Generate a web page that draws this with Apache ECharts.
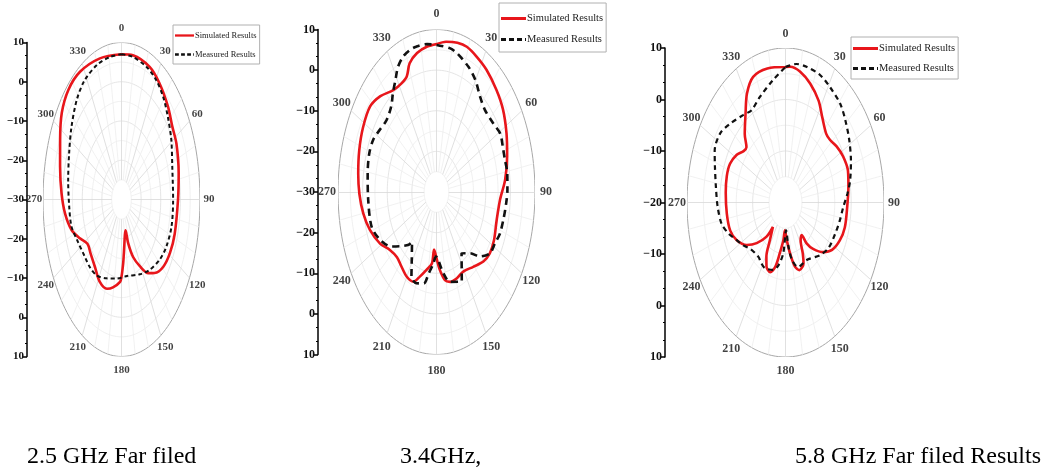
<!DOCTYPE html>
<html><head><meta charset="utf-8">
<script src="https://cdn.jsdelivr.net/npm/echarts@6/dist/echarts.min.js"></script>
<style>html,body{margin:0;padding:0;background:#fff}#c{width:1051px;height:472px}</style>
</head><body><div id="c"></div>
<script>
// ---------- data ----------
const angleTicks = [0, 30, 60, 90, 120, 150, 180, 210, 240, 270, 300, 330];
const seriesNames = ['Simulated Results', 'Measured Results'];
const captions = ['2.5 GHz Far filed', '3.4GHz,', '5.8 GHz Far filed Results'];
const rangesDb = [[-30, 10], [-30, 10], [-20, 10]];

// 2.5 GHz
const p1SimAngles = [0,9,23,33,45,54,63,77,90,108,119,129,138,144,151,158,163,165,175,177,180,182,191,198,208,218,229,237,245,253,263,273,285,296,306,316,327,343];
const p1SimDb = [7.0,7.2,6.7,5.4,3.5,1.9,1.4,-0.1,-1.2,-1.5,-1.8,-2.7,-4.8,-6.8,-10.5,-14.2,-18.3,-21.9,-16.2,-13.7,-10.3,-9.0,-7.2,-6.1,-6.3,-8.1,-9.1,-9.3,-6.6,-3.4,-1.0,0.6,2.4,4.8,7.6,8.9,8.8,7.6];
const p1MeasAngles = [0,9,21,30,39,48,59,72,90,105,118,128,141,154,172,187,201,213,223,232,245,255,266,280,294,306,318,328,340,351];
const p1MeasDb = [7.0,6.8,6.1,5.2,3.7,1.7,-0.4,-2.8,-3.7,-3.6,-4.2,-5.2,-7.0,-8.8,-10.3,-9.7,-8.5,-6.9,-6.4,-6.3,-5.2,-3.6,-3.3,-2.4,-0.8,1.5,4.1,5.7,6.5,6.8];

// 3.4 GHz
const p2SimAngles = [0,6,13,19,26,34,44,53,63,73,84,94,106,117,125,132,141,151,159,166,171,176,180,184,186,192,198,203,210,218,225,233,241,251,260,269,278,288,298,308,316,325,332,337,341,347,354];
const p2SimDb = [6.4,7.2,7.7,7.8,7.1,6.3,5.0,3.8,1.9,0.0,-2.0,-4.1,-4.6,-3.8,-3.6,-4.4,-6.3,-7.6,-7.2,-7.2,-8.0,-10.8,-13.7,-15.8,-12.3,-10.4,-8.1,-6.0,-5.9,-6.8,-7.3,-6.3,-3.8,-1.4,0.2,1.3,2.1,3.0,3.8,4.2,2.8,0.6,0.3,0.9,3.5,5.1,6.0];
const p2MeasAngles = [0,9,14,23,30,37,44,54,61,68,74,81,89,96,104,112,118,125,132,138,146,155,166,172,181,184,189,193,200,206,211,219,221,227,234,243,252,266,279,289,297,304,311,319,324,329,333,338,343,347,354];
const p2MeasDb = [6.2,5.8,5.1,3.4,1.7,-0.6,-1.8,-1.4,-0.4,-0.9,-1.1,-0.9,-1.2,-1.6,-2.0,-2.3,-3.1,-3.6,-6.3,-9.7,-11.8,-5.7,-7.2,-9.8,-14.1,-12.4,-9.7,-6.9,-6.1,-6.8,-10.5,-14.2,-12.8,-10.5,-7.2,-4.2,-2.3,-2.2,-1.7,-1.1,-1.3,-2.4,-3.1,-2.0,0.1,2.3,4.5,6.0,6.6,6.7,6.6];

// 5.8 GHz
const p3SimAngles = [0,3,10,18,27,34,43,48,55,63,72,81,93,105,114,123,130,137,141,142,148,152,155,162,167,172,177,182,185,190,194,199,205,209,213,219,221,228,235,244,252,263,276,286,294,302,308,312,317,325,331,338,348];
const p3SimDb = [6.3,6.4,5.8,4.3,2.2,0.0,-1.8,-1.8,-1.0,-0.3,0.0,-0.6,-1.2,-1.3,-1.9,-3.1,-5.0,-7.7,-9.8,-12.0,-11.3,-8.8,-7.0,-6.2,-7.2,-10.0,-12.7,-14.6,-12.7,-10.0,-7.1,-5.7,-6.3,-8.0,-11.3,-13.9,-11.2,-8.2,-5.6,-3.4,-2.3,-2.0,-1.7,-1.4,-1.5,-2.5,-3.8,-4.0,-1.8,1.2,4.2,6.3,6.6];
const p3MeasAngles = [0,7,14,23,31,41,49,58,68,78,85,93,102,112,124,134,150,163,170,174,178,184,190,196,206,212,218,230,237,244,251,258,268,278,288,295,304,312,323,330,339,351];
const p3MeasDb = [6.3,7.1,7.1,6.9,6.2,5.4,4.2,2.9,1.5,0.1,-1.1,-2.4,-3.1,-3.7,-4.2,-5.3,-7.1,-6.9,-8.7,-11.4,-14.6,-10.1,-7.6,-6.4,-5.8,-6.1,-6.6,-6.0,-4.7,-3.4,-1.6,-0.1,0.7,1.4,2.6,3.8,4.0,2.8,1.3,0.7,1.9,4.1];

const simAngles = [p1SimAngles, p2SimAngles, p3SimAngles];
const simDb = [p1SimDb, p2SimDb, p3SimDb];
const measAngles = [p1MeasAngles, p2MeasAngles, p3MeasAngles];
const measDb = [p1MeasDb, p2MeasDb, p3MeasDb];

// ---------- layout / style ----------
const layouts = [
  {left: 43, top: 42.5, w: 157, h: 314, axisOffset: 16, font: 11, padX: 9, padY: 14, dash: [4, 3], dashW: 2,
   lg: {left: 173, top: 25, font: 8.5, gap: 10, iw: 19, pad: [6, 3, 5, 2]}, cap: {x: 27, y: 445}},
  {left: 338, top: 29.5, w: 197, h: 325, axisOffset: 20, font: 12, padX: 11, padY: 16, dash: [7, 5], dashW: 2.6,
   lg: {left: 499, top: 3, font: 10.5, gap: 10, iw: 25, pad: [10, 3, 7, 2]}, cap: {x: 400, y: 445}},
  {left: 687, top: 48, w: 197, h: 309, axisOffset: 22, font: 12, padX: 10, padY: 14, dash: [5, 4], dashW: 2.2,
   lg: {left: 851, top: 37, font: 10.5, gap: 9, iw: 25, pad: [6, 3, 5, 2]}, cap: {x: 795, y: 445}}
];
const SERIF = "'Liberation Serif','Times New Roman',serif";
const ICON_SOLID = 'path://M0,0h25v3h-25z';
const ICON_DASH = 'path://M0,0h5v3h-5z M8,0h5v3h-5z M16,0h5v3h-5z M24,0h1v3h-1z';

const deg = Math.PI / 180;
function xy(a, db, min) { const r = db - min; return [r * Math.sin(a * deg), r * Math.cos(a * deg)]; }
function curve(angles, dbs, min) { const pts = angles.map((a, i) => xy(a, dbs[i], min)); pts.push(pts[0]); return pts; }
function fmt(v) { const n = Math.round(v); return n < 0 ? '\u2212' + Math.abs(n) : String(n); }

const grids = [], xAxes = [], yAxes = [], series = [], legends = [], graphics = [];

layouts.forEach((L, i) => {
  const [min, max] = rangesDb[i];
  const R = max - min;
  grids.push({left: L.left, top: L.top, width: L.w, height: L.h, containLabel: false});
  xAxes.push({type: 'value', gridIndex: i, min: -R, max: R, show: false});
  yAxes.push({
    type: 'value', gridIndex: i, min: -R, max: R, interval: 10, position: 'left', offset: L.axisOffset,
    axisLine: {show: true, onZero: false, lineStyle: {color: '#000', width: 1.5}},
    axisTick: {show: true, inside: false, length: 4, lineStyle: {color: '#000', width: 1.5}},
    minorTick: {show: true, splitNumber: 3, length: 2, lineStyle: {color: '#000', width: 1}},
    splitLine: {show: false},
    axisLabel: {formatter: v => fmt(min + Math.abs(v)), margin: 3, color: '#111', fontFamily: SERIF, fontWeight: 'bold', fontSize: L.font}
  });

  // concentric rings
  const rings = [];
  for (let d = min + 5; d <= max + 1e-9; d += 5) {
    const coords = [];
    for (let a = 0; a <= 360; a += 2) coords.push(xy(a, d, min));
    const outer = Math.abs(d - max) < 1e-9;
    rings.push({coords, lineStyle: {color: outer ? '#a8a8a8' : ((d - min) % 10 === 0 ? '#dedede' : '#ececec'), width: outer ? 1 : 0.8}});
  }
  series.push({type: 'lines', coordinateSystem: 'cartesian2d', xAxisIndex: i, yAxisIndex: i, polyline: true, silent: true, z: 1, data: rings, lineStyle: {opacity: 1}});

  // spokes
  const spokes = [];
  for (let a = 0; a < 360; a += 10) {
    const major = a % 30 === 0;
    spokes.push({coords: [xy(a, min + 5, min), xy(a, max, min)], lineStyle: {color: major ? '#d8d8d8' : '#ededed', width: 0.8}});
  }
  series.push({type: 'lines', coordinateSystem: 'cartesian2d', xAxisIndex: i, yAxisIndex: i, polyline: false, silent: true, z: 1, data: spokes, lineStyle: {opacity: 1}});

  // angle labels
  const rx = L.w / 2, ry = L.h / 2;
  series.push({
    type: 'scatter', xAxisIndex: i, yAxisIndex: i, clip: false, silent: true, symbolSize: 1, itemStyle: {color: 'rgba(0,0,0,0)'}, z: 3,
    data: angleTicks.map(a => ({name: String(a), value: [R * (rx + L.padX) / rx * Math.sin(a * deg), R * (ry + L.padY) / ry * Math.cos(a * deg)]})),
    label: {show: true, position: 'inside', formatter: '{b}', color: '#111', fontFamily: SERIF, fontWeight: 'bold', fontSize: L.font}
  });

  // data curves
  series.push({
    name: seriesNames[0], type: 'line', xAxisIndex: i, yAxisIndex: i, data: curve(simAngles[i], simDb[i], min),
    symbol: 'none', smooth: 0.3, z: 5, lineStyle: {color: '#e8161b', width: 2.6}, itemStyle: {color: '#e8161b'}
  });
  series.push({
    name: seriesNames[1], type: 'line', xAxisIndex: i, yAxisIndex: i, data: curve(measAngles[i], measDb[i], min),
    symbol: 'none', smooth: 0.3, z: 6, lineStyle: {color: '#111', width: L.dashW, type: L.dash}, itemStyle: {color: '#111'}
  });

  legends.push({
    data: [{name: seriesNames[0], icon: ICON_SOLID}, {name: seriesNames[1], icon: ICON_DASH}],
    orient: 'vertical', left: L.lg.left, top: L.lg.top, padding: L.lg.pad,
    itemGap: L.lg.gap, itemWidth: L.lg.iw, itemHeight: 10, borderColor: '#b0b0b0', borderWidth: 1, backgroundColor: '#fff',
    selectedMode: false, textStyle: {fontFamily: SERIF, fontSize: L.lg.font, color: '#222', padding: [0, 0, 0, -4]}
  });

  graphics.push({type: 'text', left: L.cap.x, top: L.cap.y, style: {text: captions[i], font: '24px ' + SERIF, fill: '#000'}});
});

const chart = echarts.init(document.getElementById('c'));
chart.setOption({animation: false, backgroundColor: '#fff', grid: grids, xAxis: xAxes, yAxis: yAxes, legend: legends, series, graphic: graphics});
</script>
</body></html>
